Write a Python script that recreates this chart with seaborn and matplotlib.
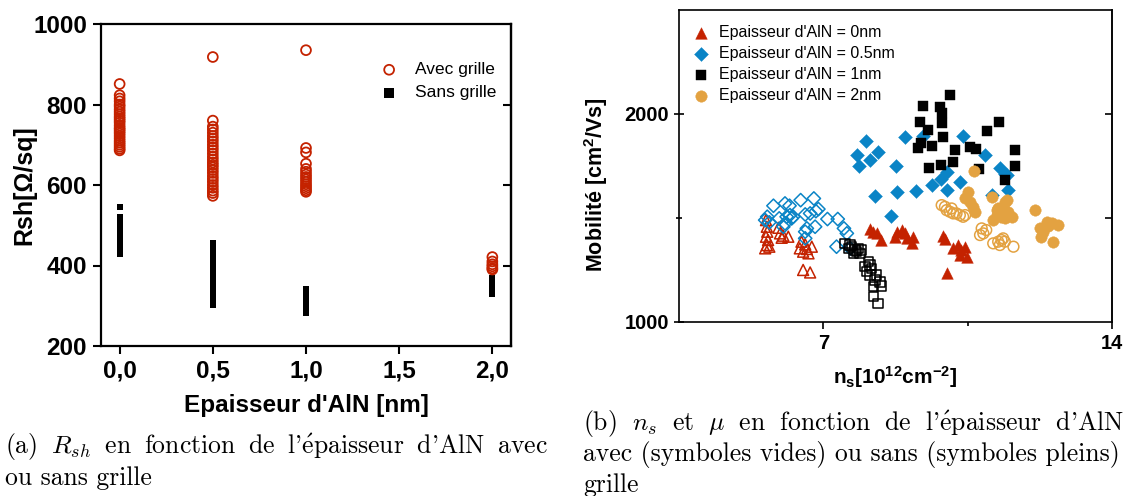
import numpy as np
import pandas as pd
import seaborn as sns
import matplotlib.pyplot as plt
from matplotlib.ticker import FixedLocator, MultipleLocator

# ---- (a) Rsh vs AlN thickness ----
epaisseur_ticks = [0.0, 0.5, 1.0, 1.5, 2.0]
epaisseur_labels = ['0,0', '0,5', '1,0', '1,5', '2,0']

avec_0 = [851, 823, 815, 808, 800, 795, 788, 782, 776, 770, 765, 760, 755, 748, 742,
          738, 733, 728, 722, 716, 710, 705, 700, 695, 690, 686]
avec_05 = [918, 760, 745, 738, 730, 722, 715, 708, 700, 693, 686, 678, 670, 663, 656,
           650, 644, 637, 630, 622, 615, 608, 600, 593, 586, 580, 573]
avec_1 = [935, 692, 681, 653, 640, 633, 626, 620, 614, 608, 602, 597, 592, 587, 583]
avec_2 = [421, 410, 403, 398, 393, 390]

sans_0 = [545, 520, 516, 512, 508, 504, 500, 496, 492, 488, 484, 480, 476, 472, 468,
          464, 460, 456, 452, 448, 444, 440, 436, 432, 428]
sans_05 = [455, 451, 447, 443, 439, 435, 431, 427, 423, 419, 415, 411, 407, 403, 399,
           395, 391, 387, 383, 379, 375, 371, 367, 363, 359, 355, 351, 347, 343, 339,
           335, 331, 327, 323, 319, 315, 311, 307, 303]
sans_1 = [342, 338, 334, 330, 326, 322, 318, 314, 310, 306, 302, 298, 294, 290, 286, 282]
sans_2 = [370, 366, 362, 358, 354, 350, 346, 342, 338, 334, 330]

# ---- (b) mobility vs ns ----
tri_open_x = [5.61, 5.63, 5.64, 5.61, 5.66, 5.63, 5.69, 5.59, 5.91, 5.95, 6.03, 6.15,
              5.99, 6.47, 6.56, 6.43, 6.60, 6.72, 6.51, 6.64, 6.51, 6.68]
tri_open_y = [1489, 1457, 1433, 1409, 1393, 1369, 1361, 1353, 1452, 1425, 1414, 1409,
              1404, 1385, 1372, 1353, 1350, 1361, 1337, 1329, 1249, 1237]
tri_full_x = [8.13, 8.21, 8.31, 8.41, 8.78, 8.74, 8.90, 8.98, 9.02, 9.18, 9.14, 9.91,
              9.95, 10.15, 10.27, 10.35, 10.44, 10.31, 10.48, 9.99]
tri_full_y = [1444, 1433, 1425, 1393, 1433, 1409, 1441, 1425, 1401, 1409, 1377, 1412,
              1396, 1353, 1369, 1345, 1361, 1321, 1313, 1236]

dia_open_x = [5.79, 6.07, 6.18, 6.45, 6.77, 6.88, 6.82, 6.68, 6.56, 6.19, 6.27, 6.23,
              5.93, 5.64, 5.59, 5.69, 6.07, 6.03, 6.60, 6.56, 6.80, 7.10, 7.35, 7.50,
              7.57, 6.56, 7.32, 7.65, 6.11]
dia_open_y = [1558, 1569, 1558, 1585, 1593, 1542, 1532, 1521, 1516, 1513, 1505, 1497,
              1497, 1505, 1489, 1478, 1473, 1457, 1449, 1433, 1457, 1494, 1494, 1449,
              1425, 1401, 1361, 1353, 1505]
dia_full_x = [8.03, 7.81, 8.33, 8.13, 7.87, 8.76, 8.98, 9.41, 8.25, 8.78, 9.25, 9.63,
              9.85, 10.01, 8.63, 10.38, 10.92, 10.31, 9.99, 11.28, 11.40, 11.45, 11.49, 11.08]
dia_full_y = [1869, 1801, 1818, 1777, 1749, 1749, 1890, 1893, 1604, 1625, 1628, 1657,
              1688, 1721, 1508, 1893, 1801, 1673, 1633, 1742, 1713, 1705, 1636, 1609]

sq_open_x = [7.53, 7.65, 7.61, 7.69, 7.77, 7.85, 7.93, 7.89, 7.73, 7.81, 8.09, 8.13,
             8.01, 8.17, 8.05, 8.13, 8.29, 8.25, 8.37, 8.41, 8.21, 8.21, 8.33]
sq_open_y = [1377, 1369, 1353, 1361, 1345, 1353, 1345, 1329, 1329, 1337, 1289, 1273,
             1265, 1257, 1241, 1225, 1225, 1200, 1192, 1172, 1168, 1120, 1088]
sq_full_x = [10.08, 9.42, 9.83, 9.87, 9.34, 9.87, 9.55, 9.91, 9.36, 9.30, 9.63, 9.57,
             9.85, 10.19, 10.15, 10.56, 10.70, 10.96, 11.27, 11.65, 11.65, 11.40, 10.78]
sq_full_y = [2090, 2037, 2031, 2005, 1962, 1954, 1922, 1890, 1858, 1834, 1845, 1742,
             1753, 1826, 1769, 1842, 1829, 1918, 1962, 1826, 1749, 1681, 1737]

circ_open_x = [9.87, 9.95, 10.11, 9.99, 10.07, 10.15, 10.23, 10.31, 10.39, 10.44, 10.84,
               10.88, 10.80, 11.12, 11.24, 11.28, 11.32, 11.36, 11.40, 11.61, 10.95]
circ_open_y = [1561, 1553, 1545, 1537, 1529, 1521, 1521, 1513, 1505, 1513, 1449,
               1425, 1417, 1377, 1385, 1369, 1393, 1401, 1385, 1361, 1441]
circ_full_x = [10.66, 10.52, 10.44, 10.56, 10.62, 10.68, 11.08, 11.40, 11.45, 11.36, 11.20,
               11.49, 11.24, 11.20, 11.57, 11.12, 11.40, 11.32, 12.13, 12.42, 12.54, 12.70,
               12.25, 12.33, 12.29, 12.58, 12.45]
circ_full_y = [1726, 1625, 1593, 1577, 1550, 1529, 1598, 1577, 1585, 1545, 1537,
               1529, 1545, 1513, 1505, 1489, 1497, 1505, 1537, 1481, 1473, 1465,
               1449, 1433, 1406, 1385, 1460]

legend_b = ["Epaisseur d'AlN = 0nm", "Epaisseur d'AlN = 0.5nm",
            "Epaisseur d'AlN = 1nm", "Epaisseur d'AlN = 2nm"]

RED = '#C42200'
BLUE = '#0A84C6'
ORANGE = '#E3A241'

sns.set_theme(style='ticks')
plt.rcParams['font.family'] = ['Liberation Sans', 'DejaVu Sans']
plt.rcParams['text.color'] = 'black'
plt.rcParams['axes.labelcolor'] = 'black'
plt.rcParams['xtick.color'] = 'black'
plt.rcParams['ytick.color'] = 'black'
plt.rcParams['mathtext.fontset'] = 'custom'
plt.rcParams['mathtext.rm'] = 'Liberation Sans:bold'
plt.rcParams['mathtext.bf'] = 'Liberation Sans:bold'
plt.rcParams['mathtext.it'] = 'Liberation Sans:bold'

fig = plt.figure(figsize=(11.29, 4.96), dpi=100)

# ---------------- left panel ----------------
ax1 = fig.add_axes([101 / 1129, 1 - 346 / 496, 410 / 1129, 322 / 496])

df_avec = pd.DataFrame({
    'ep': [0.0] * len(avec_0) + [0.5] * len(avec_05) + [1.0] * len(avec_1) + [2.0] * len(avec_2),
    'rsh': avec_0 + avec_05 + avec_1 + avec_2})
df_sans = pd.DataFrame({
    'ep': [0.0] * len(sans_0) + [0.5] * len(sans_05) + [1.0] * len(sans_1) + [2.0] * len(sans_2),
    'rsh': sans_0 + sans_05 + sans_1 + sans_2})

sns.scatterplot(data=df_sans, x='ep', y='rsh', ax=ax1, marker='s', s=24,
                color='black', edgecolor='black', linewidth=0, label='Sans grille', zorder=2)
sns.scatterplot(data=df_avec, x='ep', y='rsh', ax=ax1, marker='o', s=50,
                facecolor='none', edgecolor=RED, linewidth=1.3, label='Avec grille', zorder=3)

ax1.set_xlim(-0.1, 2.1)
ax1.set_ylim(200, 1000)
ax1.xaxis.set_major_locator(FixedLocator(epaisseur_ticks))
ax1.set_xticklabels(epaisseur_labels)
ax1.yaxis.set_major_locator(MultipleLocator(200))
ax1.tick_params(axis='both', direction='out', length=6, width=1.5, labelsize=17.5, pad=4)
for lab in ax1.get_xticklabels() + ax1.get_yticklabels():
    lab.set_fontweight('bold')
for sp in ax1.spines.values():
    sp.set_linewidth(1.6)
    sp.set_color('black')
sec1 = ax1.secondary_yaxis('right')
sec1.yaxis.set_major_locator(FixedLocator([400, 600, 800]))
sec1.tick_params(direction='in', length=6, width=1.5, labelright=False)
sec1.spines['right'].set_linewidth(1.6)

ax1.set_xlabel("Epaisseur d'AlN [nm]", fontsize=17.5, fontweight='bold', labelpad=8)
ax1.set_ylabel('Rsh[Ω/sq]', fontsize=18, fontweight='bold', labelpad=-2)

h, l = ax1.get_legend_handles_labels()
leg1 = ax1.legend(h[::-1], l[::-1], loc='upper left', bbox_to_anchor=(0.635, 0.93),
                  frameon=False, fontsize=12.5, handletextpad=0.8, labelspacing=0.45,
                  handlelength=1.4)
leg1.legend_handles[1].set_sizes([45])

# ---------------- right panel ----------------
ax2 = fig.add_axes([679 / 1129, 1 - 321.7 / 496, 433 / 1129, 311.7 / 496])

series = [
    (tri_open_x, tri_open_y, '^', RED, False, 62),
    (dia_open_x, dia_open_y, 'D', BLUE, False, 46),
    (sq_open_x, sq_open_y, 's', 'black', False, 46),
    (circ_open_x, circ_open_y, 'o', ORANGE, False, 60),
    (tri_full_x, tri_full_y, '^', RED, True, 70),
    (dia_full_x, dia_full_y, 'D', BLUE, True, 50),
    (sq_full_x, sq_full_y, 's', 'black', True, 48),
    (circ_full_x, circ_full_y, 'o', ORANGE, True, 68),
]
for i, (xs, ys, mk, col, filled, size) in enumerate(series):
    lab = legend_b[i - 4] if filled else None
    if filled:
        sns.scatterplot(x=xs, y=ys, ax=ax2, marker=mk, s=size, color=col,
                        edgecolor=col, linewidth=0.3, label=lab, zorder=3)
    else:
        sns.scatterplot(x=xs, y=ys, ax=ax2, marker=mk, s=size, facecolor='none',
                        edgecolor=col, linewidth=1.1, zorder=2)

ax2.set_xlim(3.5, 14)
ax2.set_ylim(1000, 2500)
ax2.xaxis.set_major_locator(FixedLocator([7, 14]))
ax2.xaxis.set_minor_locator(FixedLocator([10.5]))
ax2.yaxis.set_major_locator(FixedLocator([1000, 2000]))
ax2.yaxis.set_minor_locator(FixedLocator([1500]))
ax2.tick_params(axis='y', which='major', direction='inout', length=7, width=1.2, labelsize=14.5)
ax2.tick_params(axis='y', which='minor', direction='inout', length=4, width=1.2)
ax2.tick_params(axis='x', which='major', direction='out', length=5, width=1.2, labelsize=14.5)
ax2.tick_params(axis='x', which='minor', direction='out', length=3, width=1.2)
for lab in ax2.get_xticklabels() + ax2.get_yticklabels():
    lab.set_fontweight('bold')
for sp in ax2.spines.values():
    sp.set_linewidth(1.2)
    sp.set_color('black')
sec2 = ax2.secondary_yaxis('right')
sec2.yaxis.set_major_locator(FixedLocator([1500, 2000]))
sec2.tick_params(direction='in', length=5, width=1.2, labelright=False)
sec2.spines['right'].set_linewidth(1.2)

ax2.set_xlabel(r'n$_{\mathrm{s}}$[10$^{\mathrm{12}}$cm$^{\mathrm{-2}}$]', fontsize=15,
               fontweight='bold', labelpad=8)
ax2.set_ylabel(r'Mobilité [cm$^{\mathrm{2}}$/Vs]', fontsize=15.5, fontweight='bold')
ax2.yaxis.set_label_coords(-0.16, 0.44)

ax2.legend(loc='upper left', bbox_to_anchor=(0.0, 0.982), frameon=False, fontsize=11.5,
           handletextpad=0.3, labelspacing=0.38, borderaxespad=0.2, handlelength=1.6)

# ---------------- captions ----------------
# LaTeX-like justified lines: a little extra space between words
cap = dict(family=['cmr10', 'DejaVu Serif'], fontsize=18.5, math_fontfamily='cm',
           ha='left', va='center')
fig.text(5 / 1129, 1 - 447 / 496,
         r"(a) $\:$$R_{sh}$ $\:$en $\:$fonction $\:$de $\:$l'$\acute{\mathrm{e}}$paisseur "
         r"$\:$d'AlN $\:$avec", **cap)
fig.text(5 / 1129, 1 - 478 / 496, "ou sans grille", **cap)
fig.text(583 / 1129, 1 - 424 / 496,
         r"(b) $\;$$n_s$ $\;$et $\;$$\mu$ $\;$en $\;$fonction $\;$de "
         r"$\;$l'$\acute{\mathrm{e}}$paisseur $\;$d'AlN", **cap)
fig.text(583 / 1129, 1 - 455 / 496,
         "avec (symboles vides) ou sans (symboles pleins)", **cap)
fig.text(583 / 1129, 1 - 485 / 496, "grille", **cap)

fig.savefig('out.png', dpi=100)
